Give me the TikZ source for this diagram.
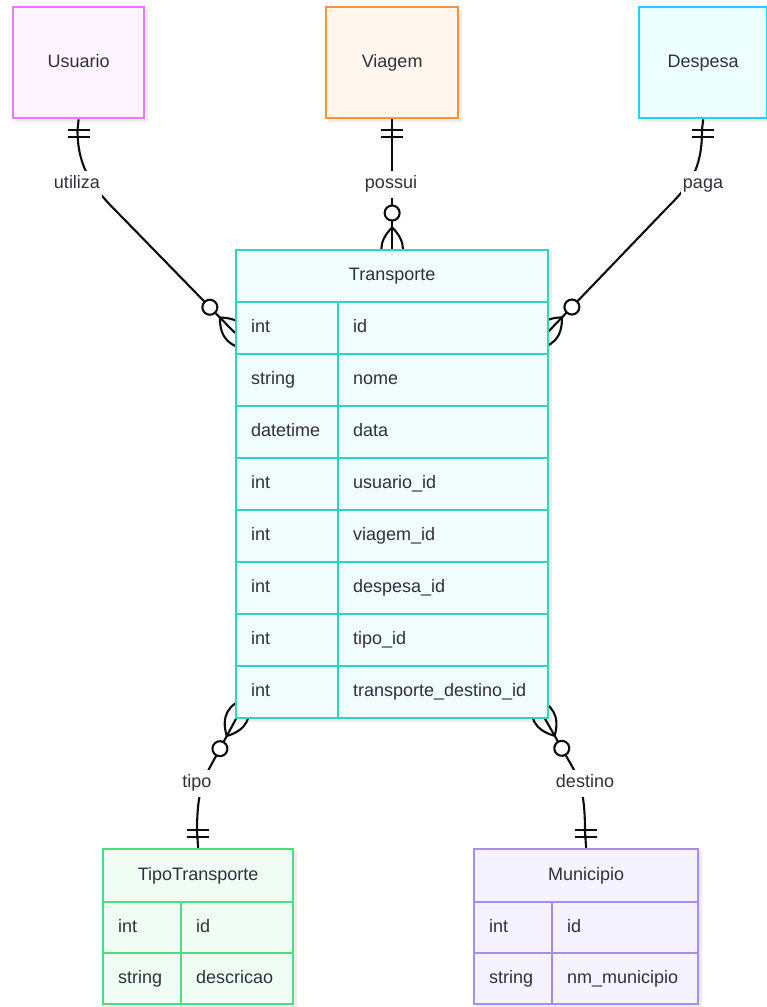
\documentclass[tikz,border=0pt]{standalone}
\usepackage{fontspec}
\setmainfont{Liberation Sans}
\usetikzlibrary{calc}
\pgfdeclarelayer{background}
\pgfsetlayers{background,main}

\definecolor{txt}{HTML}{30303C}
\definecolor{usrB}{HTML}{E879F9}\definecolor{usrF}{HTML}{FDF4FF}
\definecolor{viaB}{HTML}{FB923C}\definecolor{viaF}{HTML}{FFF7ED}
\definecolor{desB}{HTML}{22D3EE}\definecolor{desF}{HTML}{ECFEFF}
\definecolor{trB}{HTML}{2DD4BF}\definecolor{trF}{HTML}{F0FDFA}
\definecolor{ttB}{HTML}{4ADE80}\definecolor{ttF}{HTML}{F0FDF4}
\definecolor{munB}{HTML}{A78BFA}\definecolor{munF}{HTML}{F5F3FF}

\tikzset{
  conn/.style={line width=2.1pt, draw=black!95},
  box/.style 2 args={draw=#1, fill=#2, line width=2.3pt, rectangle, inner sep=0pt,
    text=txt, anchor=north west, text height=13pt, text depth=4pt},
  cell/.style={inner xsep=15pt, align=left},
  shade/.style={fill=black!7},
  elabel/.style={fill=white, text=txt, inner xsep=2pt, inner ysep=5pt,
    text height=13pt, text depth=4pt},
  onlyone/.pic={\draw[conn] (10.8,-11) -- (10.8,11) (18,-11) -- (18,11);},
  zeromany/.pic={
    \draw[conn] (-21.6,0) .. controls (-7.2,14.4) and (7.2,14.4) .. (21.6,0)
                .. controls (7.2,-14.4) and (-7.2,-14.4) .. (-21.6,0);
    \draw[conn, fill=white] (36,0) circle (7.5pt);}
}

\begin{document}
\begin{tikzpicture}[x=1pt, y=-1pt, font=\fontsize{18}{21}\selectfont]
\useasboundingbox (0,0) rectangle (767,1007);

% entities without attributes
\node[box={usrB}{usrF}, minimum width=131pt, minimum height=111pt] (usr) at (12,6) {Usuario};
\node[box={viaB}{viaF}, minimum width=132pt, minimum height=111pt] (via) at (325,6) {Viagem};
\node[box={desB}{desF}, minimum width=128pt, minimum height=111pt] (des) at (638,6) {Despesa};

% Transporte table
\node[box={trB}{trF}, minimum width=312pt, minimum height=52pt] (tr) at (235,249) {Transporte};
\foreach \ty/\nm [count=\i] in {int/id, string/nome, datetime/data, int/usuario\_id,
    int/viagem\_id, int/despesa\_id, int/tipo\_id, int/transporte\_destino\_id}{
  \node[box={trB}{trF}, cell, minimum height=52pt, text width=72pt] (tr-t\i) at (235,{249+52*\i}) {\ty};
  \node[box={trB}{trF}, cell, minimum height=52pt, text width=180pt] (tr-n\i) at (337,{249+52*\i}) {\nm};
}

% TipoTransporte table
\node[box={ttB}{ttF}, minimum width=190pt, minimum height=53pt] (tt) at (102,848) {TipoTransporte};
\foreach \ty/\nm [count=\i] in {int/id, string/descricao}{
  \node[box={ttB}{ttF}, cell, minimum height=51pt, text width=48pt] (tt-t\i) at (102,{901+51*(\i-1)}) {\ty};
  \node[box={ttB}{ttF}, cell, minimum height=51pt, text width=82pt] (tt-n\i) at (180,{901+51*(\i-1)}) {\nm};
}

% Municipio table
\node[box={munB}{munF}, minimum width=224pt, minimum height=53pt] (mun) at (473,848) {Municipio};
\foreach \ty/\nm [count=\i] in {int/id, string/nm\_municipio}{
  \node[box={munB}{munF}, cell, minimum height=51pt, text width=48pt] (mun-t\i) at (473,{901+51*(\i-1)}) {\ty};
  \node[box={munB}{munF}, cell, minimum height=51pt, text width=116pt] (mun-n\i) at (551,{901+51*(\i-1)}) {\nm};
}

% attachment points on Transporte
\coordinate (eU) at (235,333);
\coordinate (eP) at (547,333);
\coordinate (eT) at (237,717);
\coordinate (eD) at (544,717);

% relationship labels
\node[elabel] (l-util) at (77,184) {utiliza};
\node[elabel] (l-poss) at (391,184) {possui};
\node[elabel] (l-paga) at (703,184) {paga};
\node[elabel] (l-tipo) at (197,783) {tipo};
\node[elabel] (l-dest) at (585,783) {destino};

\begin{pgfonlayer}{background}
  \fill[white] (0,0) rectangle (767,1007);
  % soft shadows
  \foreach \n/\m in {usr/usr, via/via, des/des, tr/tr-n8, tt/tt-n2, mun/mun-n2}
    \fill[shade] ($(\n.north west)+(3,3)$) rectangle ($(\m.south east)+(3,3)$);

  % relationships
  \draw[conn] (usr.south) -- (77.5,130) .. controls (77.5,170) and (95,190) .. (120,215) -- (eU);
  \draw[conn] (via.south) -- (tr.north);
  \draw[conn] (des.south) -- (702,130) .. controls (702,170) and (690,185) .. (665,210) -- (eP);
  \draw[conn] (tt.north) -- (197,832) .. controls (197,805) and (199.4,786.6) .. (209,769) -- (eT);
  \draw[conn] (mun.north) -- (585,832) .. controls (585,805) and (582.8,785.4) .. (573,768) -- (eD);

  % cardinality marks
  \pic[rotate=-90] at (usr.south) {onlyone};
  \pic[rotate=-90] at (via.south) {onlyone};
  \pic[rotate=-90] at (des.south) {onlyone};
  \pic[rotate=90] at (tt.north) {onlyone};
  \pic[rotate=90] at (mun.north) {onlyone};
  \pic[rotate=134.3] at (eU) {zeromany};
  \pic[rotate=90] at (tr.north) {zeromany};
  \pic[rotate=46.2] at (eP) {zeromany};
  \pic[rotate=241.7] at (eT) {zeromany};
  \pic[rotate=-60.4] at (eD) {zeromany};
\end{pgfonlayer}
\end{tikzpicture}
\end{document}
